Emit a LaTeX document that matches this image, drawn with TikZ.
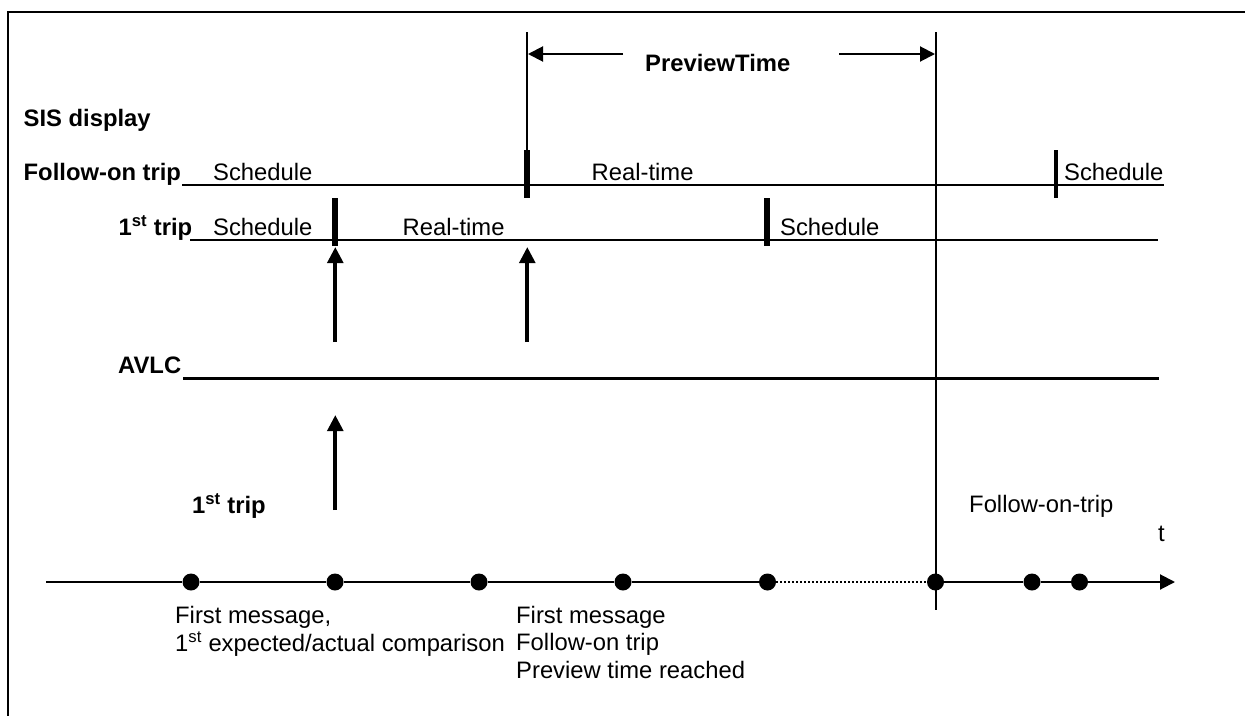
\documentclass[tikz,border=0pt]{standalone}
\usepackage{fontspec}
\setmainfont{Liberation Sans}
\usetikzlibrary{arrows.meta}
\newcommand{\supst}{\textsuperscript{st}}
\tikzset{
 lbl/.style={inner sep=0pt,font=\fontsize{23.8pt}{28pt}\selectfont,anchor=base west,align=left},
 blbl/.style={lbl,font=\fontsize{23.8pt}{28pt}\selectfont\bfseries},
 thinln/.style={line width=2pt},
 vertln/.style={line width=2pt},
 medln/.style={line width=3pt},
 tickln/.style={line width=5.8pt},
 upar/.style={line width=3.8pt,-{Triangle[length=16pt,width=15.5pt]}},
 dimar/.style={line width=2pt,-{Triangle[length=15pt,width=15pt]}},
 dotn/.style={circle,fill=black,inner sep=0pt,minimum size=17pt},
}
\begin{document}
\begin{tikzpicture}[x=1pt,y=-1pt]
\useasboundingbox (0,0) rectangle (1245,715);
\coordinate (bl) at (8,716);\coordinate (tl) at (8,12);\coordinate (tr) at (1245,12);
\draw[line width=2pt] (bl) -- (tl) -- (tr);
% labels
\node[blbl] (sis) at (23.5,126.5) {SIS display};
\node[blbl] (fo) at (23.5,180.5) {Follow-on trip};
\node[blbl] (ft) at (118.5,235.5) {1\supst{} trip};
\node[blbl] (av) at (118,373.5) {AVLC};
\node[blbl] (ft2) at (192,513.5) {1\supst{} trip};
\node[blbl] (pv) at (645,71) {PreviewTime};
% timeline dots
\foreach \n/\x in {a/191,b/335,c/479,d/623,e/767.5,f/935.5,g/1032,h/1079.5}
  \node[dotn] (\n) at (\x,582) {};
\coordinate (tstart) at (46,582);
\coordinate (tend) at (1175,582);
\draw[thinln] (tstart) -- (a);
\draw[thinln] (a) -- (b);
\draw[thinln] (b) -- (c);
\draw[thinln] (c) -- (d);
\draw[thinln] (d) -- (e);
\draw[line width=1.5pt,dash pattern=on 1.5pt off 2.5pt] (e) -- (f);
\draw[thinln] (f) -- (g);
\draw[line width=2.4pt] (g) -- (h);
\draw[thinln,-{Triangle[length=15pt,width=15pt]}] (h) -- (tend);
% vertical lines
\coordinate (vb) at (935.9,610);\coordinate (vt) at (935.9,32);
\draw[vertln] (vt) -- (vb);
\coordinate (pt) at (527.3,32);\coordinate (pb) at (527.3,152);
\draw[vertln] (pt) -- (pb);
% preview dim
\coordinate (d1) at (623,54);\coordinate (d2) at (528,54);
\coordinate (d3) at (839,54);\coordinate (d4) at (935,54);
\draw[dimar] (d1) -- (d2);
\draw[dimar] (d3) -- (d4);
% horizontal rows
\coordinate (r1a) at (182,185);\coordinate (r1b) at (1164,185);
\draw[thinln] (r1a) -- (r1b);
\coordinate (r2a) at (190,240);\coordinate (r2b) at (1158,240);
\draw[thinln] (r2a) -- (r2b);
\coordinate (r3a) at (183,378.5);\coordinate (r3b) at (1159,378.5);
\draw[medln] (r3a) -- (r3b);
% ticks
\foreach \n/\x/\ya/\yb in {t1/527.3/150/198,t3/335.3/198/246,t4/767.3/198/246}{
  \coordinate (\n a) at (\x,\ya);\coordinate (\n b) at (\x,\yb);
  \draw[tickln] (\n a) -- (\n b);}
\coordinate (t2a) at (1055.7,150);\coordinate (t2b) at (1055.7,198);
\draw[line width=4.4pt] (t2a) -- (t2b);
% arrows
\coordinate (u1a) at (335.3,342);\coordinate (u1b) at (335.3,247);
\coordinate (u2a) at (527.3,342);\coordinate (u2b) at (527.3,247);
\coordinate (u3a) at (335.3,510);\coordinate (u3b) at (335.3,415);
\draw[upar] (u1a) -- (u1b);
\draw[upar] (u2a) -- (u2b);
\draw[upar] (u3a) -- (u3b);
% texts
\node[lbl] (s1) at (213,180.7) {Schedule};
\node[lbl] (r1) at (591.5,180.7) {Real-time};
\node[lbl] (s2) at (1064,180.7) {Schedule};
\node[lbl] (s3) at (213,235.7) {Schedule};
\node[lbl] (r2) at (402.5,235.7) {Real-time};
\node[lbl] (s4) at (780,235.7) {Schedule};
\node[lbl] (fot) at (969,512.5) {Follow-on-trip};
\node[lbl] (tlab) at (1158,541.5) {t};
\node[lbl] (m1) at (175,623.7) {First message,};
\node[lbl] (m2) at (175,651.5) {1\supst{} expected/actual comparison};
\node[lbl] (m3) at (516,623.7) {First message};
\node[lbl] (m4) at (516,650.7) {Follow-on trip};
\node[lbl] (m5) at (516,678) {Preview time reached};
\end{tikzpicture}
\end{document}
